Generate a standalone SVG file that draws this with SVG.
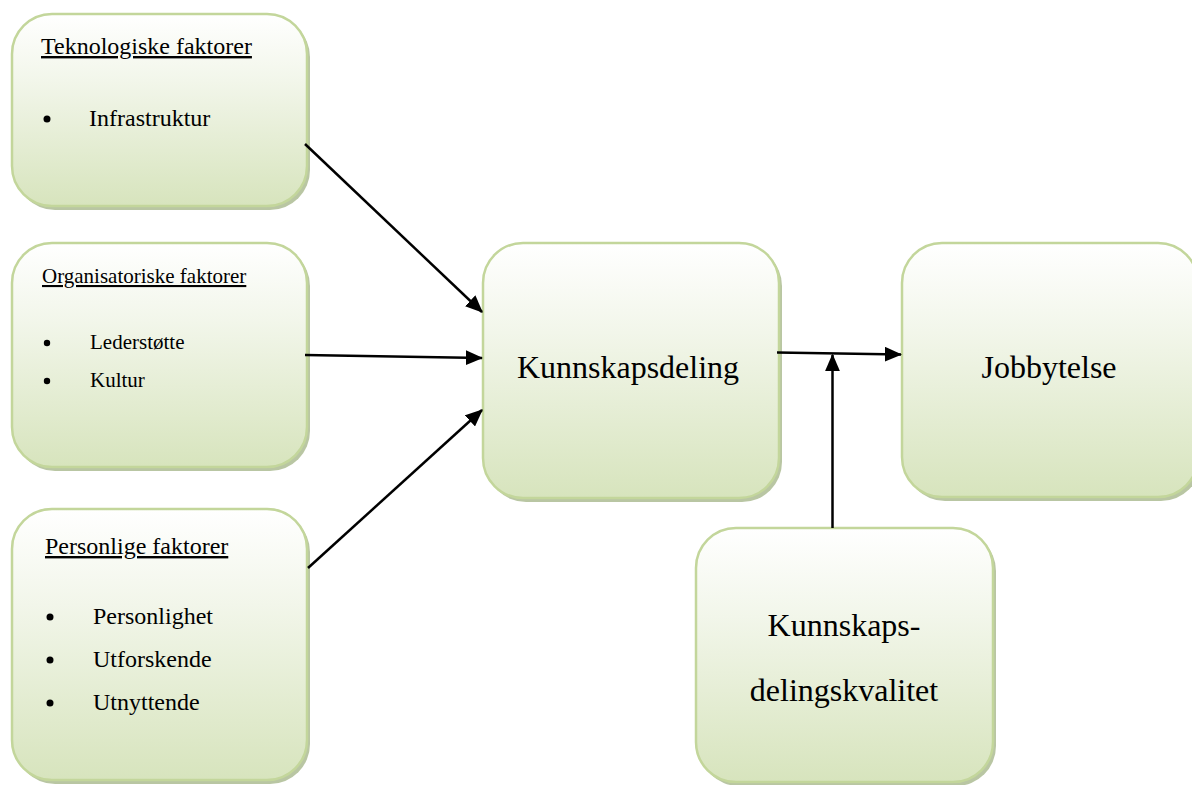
<svg xmlns="http://www.w3.org/2000/svg" width="1192" height="785" viewBox="0 0 1192 785">
<defs>
<linearGradient id="g" x1="0" y1="0" x2="0" y2="1">
<stop offset="0" stop-color="#ffffff"/>
<stop offset="0.35" stop-color="#f2f6ea"/>
<stop offset="1" stop-color="#d7e4bd"/>
</linearGradient>
<marker id="ah" markerWidth="7" markerHeight="6" refX="6.5" refY="3" orient="auto" markerUnits="strokeWidth">
<path d="M0,0 L7,3 L0,6 Z" fill="#000"/>
</marker>
</defs>
<style>
.box{fill:url(#g);stroke:#c3d69b;stroke-width:2.5}
.sh{fill:#a7b88c;opacity:0.8}
.t{font-family:"Liberation Serif","Times New Roman",serif;fill:#000}
.s24{font-size:24px}
.s21{font-size:21px}
.s32{font-size:32px}
.u{text-decoration:underline}
.c{stroke:#000;stroke-width:2.5;fill:none}
</style>
<rect width="1192" height="785" fill="#fff"/>

<g id="teknologiske">
<rect class="sh" x="15" y="17" width="295" height="193" rx="40"/>
<rect class="box" x="12" y="14" width="295" height="192" rx="40"/>
<text class="t s24 u" x="41" y="54">Teknologiske faktorer</text>
<circle cx="47" cy="119" r="3.5"/>
<text class="t s24" x="89" y="126">Infrastruktur</text>
</g>

<g id="organisatoriske">
<rect class="sh" x="15" y="246" width="295" height="225" rx="40"/>
<rect class="box" x="12" y="243" width="295" height="224" rx="40"/>
<text class="t s21 u" x="42" y="283">Organisatoriske faktorer</text>
<circle cx="47" cy="343" r="3.2"/>
<text class="t s21" x="90" y="349">Lederstøtte</text>
<circle cx="47" cy="381" r="3.2"/>
<text class="t s21" x="90" y="387">Kultur</text>
</g>

<g id="personlige">
<rect class="sh" x="15" y="512" width="295" height="272" rx="40"/>
<rect class="box" x="12" y="509" width="295" height="271" rx="40"/>
<text class="t s24 u" x="45" y="554">Personlige faktorer</text>
<circle cx="50" cy="617" r="3.5"/>
<text class="t s24" x="93" y="624">Personlighet</text>
<circle cx="50" cy="660" r="3.5"/>
<text class="t s24" x="93" y="667">Utforskende</text>
<circle cx="50" cy="703" r="3.5"/>
<text class="t s24" x="93" y="710">Utnyttende</text>
</g>

<g id="kunnskapsdeling">
<rect class="sh" x="486" y="246" width="296" height="256" rx="40"/>
<rect class="box" x="483" y="243" width="296" height="255" rx="40"/>
<text class="t s32" x="628" y="378" text-anchor="middle">Kunnskapsdeling</text>
</g>

<g id="jobbytelse">
<rect class="sh" x="905" y="246" width="296" height="255" rx="40"/>
<rect class="box" x="902" y="243" width="296" height="254" rx="40"/>
<text class="t s32" x="1049" y="378" text-anchor="middle">Jobbytelse</text>
</g>

<g id="kvalitet">
<rect class="sh" x="699" y="531" width="297" height="255" rx="40"/>
<rect class="box" x="696" y="528" width="297" height="254" rx="40"/>
<text class="t s32" x="844" y="636" text-anchor="middle">Kunnskaps-</text>
<text class="t s32" x="844" y="701" text-anchor="middle">delingskvalitet</text>
</g>

<g id="connectors">
<line class="c" x1="305" y1="144" x2="482" y2="312" marker-end="url(#ah)"/>
<line class="c" x1="305" y1="355" x2="482" y2="358" marker-end="url(#ah)"/>
<line class="c" x1="308" y1="568" x2="482" y2="410" marker-end="url(#ah)"/>
<line class="c" x1="777" y1="352.5" x2="901" y2="354.5" marker-end="url(#ah)"/>
<line class="c" x1="832.5" y1="528" x2="832.5" y2="355" marker-end="url(#ah)"/>
</g>
</svg>
